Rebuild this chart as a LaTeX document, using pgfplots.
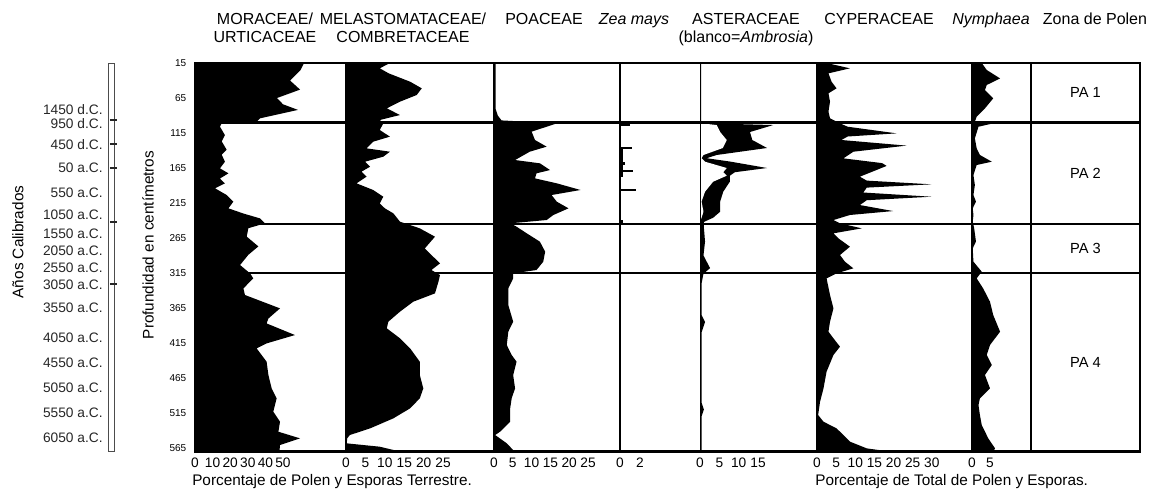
\documentclass[border=0pt]{standalone}
\usepackage{pgfplots}
\pgfplotsset{compat=1.18}
\usepackage{fontspec}
\setmainfont{Liberation Sans}
\begin{document}
\begin{tikzpicture}
\pgfplotsset{
  panel/.style={
    scale only axis, height=291.4pt, ymin=15, ymax=570, y dir=reverse, xmin=0,
    anchor=north west, axis on top,
    ytick=\empty, major tick length=0pt,
    axis line style={line width=0.9pt},
    /pgf/number format/assume math mode=true,
    tick label style={font=\fontsize{10.3}{12}\selectfont},
    xticklabel style={yshift=-1pt},
    extra y ticks={100,245,315},
    extra y tick labels={,,},
    extra y tick style={grid=major, major grid style={line width=1.7pt, black}},
  },
  fillb/.style={fill=black, draw=none},
}
\path[use as bounding box] (0,0) rectangle (865.5pt,-372pt);

% Age column
\begin{axis}[scale only axis, width=4.5pt, height=291.4pt, at={(81pt,-47.25pt)}, anchor=north west,
  ymin=15, ymax=570, y dir=reverse, xmin=0, xmax=1, xtick=\empty, major tick length=0pt,
  ytick={82,102,132,165,200.7,232,259,283.6,307.9,332,365,408,443.6,479.3,515,550.7},
  yticklabels={1450 d.C.,950 d.C.,450 d.C.,50 a.C.,550 a.C.,1050 a.C.,1550 a.C.,2050 a.C.,2550 a.C.,3050 a.C.,3550 a.C.,4050 a.C.,4550 a.C.,5050 a.C.,5550 a.C.,6050 a.C.},
  yticklabel style={font=\fontsize{10.3}{12}\selectfont, xshift=-0.5pt, text=black!85},
  axis line style={line width=0.6pt, black!70}, clip=false]
\draw[line width=0.9pt, black!85] (axis cs:0.3,96.4) -- (axis cs:1.5,96.4);
\draw[line width=0.9pt, black!85] (axis cs:0.3,130.7) -- (axis cs:1.5,130.7);
\draw[line width=0.9pt, black!85] (axis cs:0.3,165) -- (axis cs:1.5,165);
\draw[line width=0.9pt, black!85] (axis cs:0.3,242) -- (axis cs:1.5,242);
\draw[line width=0.9pt, black!85] (axis cs:0.3,330.7) -- (axis cs:1.5,330.7);
\end{axis}

% 1 Moraceae/Urticaceae
\begin{axis}[panel, width=113.25pt, at={(146.25pt,-47.25pt)}, xmax=85.8, xtick={0,10,20,30,40,50},
  ytick={15,65,...,565}, yticklabel style={font=\fontsize{7.5}{9}\selectfont, xshift=-3pt}]
\addplot[fillb] coordinates {(0,15) (62,15) (60,25) (54,40) (59.7,53) (46.6,65) (50,74) (58.5,82) (37,94) (35,99)
 (15.2,101) (14.2,106) (17,118) (15.2,127) (18,139) (15.2,146) (17,156) (14.2,165.5) (19,172.6) (14.2,180) (17,187)
 (11.4,194) (18,203.6) (21.8,213) (19,222.6) (27.5,230) (37,237) (39.8,244) (30.3,251) (29.4,263) (36,277) (30.3,289)
 (25.6,303.6) (31.3,315.5) (33.1,322.6) (27.5,337) (28.4,346.4) (48.3,365.5) (41.7,380) (40.7,387) (56.8,403.6)
 (40.7,415.5) (35,422.6) (40.7,441.7) (41.7,460.7) (43.6,480) (46.4,494) (44.5,513) (48.3,527.4) (47.4,541.7)
 (59.7,551.2) (48.3,560.7) (48,570) (0,570)};
\end{axis}

% 2 Melastomataceae/Combretaceae
\begin{axis}[panel, width=111pt, at={(259.5pt,-47.25pt)}, xmax=38.1, xtick={0,5,...,25}]
\addplot[fillb] coordinates {(0,15) (11.3,15) (8.7,22.6) (11,29.8) (16.5,41.7) (19.5,51.2) (18.2,60.7) (13.9,70.2)
 (10.5,79.8) (13.9,89.3) (8.7,96.4) (9.6,101.2) (8.7,110.7) (11.3,120.2) (7,127.4) (5.3,136.9) (11.3,141.7) (9.6,148.8)
 (4.9,156) (6.2,163.1) (4,170.2) (5.3,177.4) (2.7,186.9) (7,196.4) (9.6,206) (8.7,215.5) (10,222.6) (12.2,229.8)
 (13.9,241.7) (19,251.2) (22.9,263.1) (20.3,279.8) (22,289.3) (24.2,301.2) (22,310.7) (24.2,317.9) (23.8,327.4)
 (22.9,344.1) (17.3,356) (13.9,370.2) (10.9,384.5) (10.5,394) (13.9,408.3) (16.5,422.6) (19,441.7) (19,460.7)
 (19.9,479.8) (19,494) (16.5,508.3) (12.2,522.6) (6.2,536.9) (1,546.4) (0.3,551.2) (0.2,558.3) (8.7,563.1)
 (13.9,570) (0,570)};
\end{axis}

% 3 Poaceae
\begin{axis}[panel, width=94.5pt, at={(370.5pt,-47.25pt)}, xmax=33.5, xtick={0,5,...,25}]
\addplot[fillb] coordinates {(0,15) (0.4,15) (0.4,80) (1,90) (2,97) (16.7,101.2) (10,113.1) (10.9,125) (14,134.5)
 (9.5,141.7) (5.6,153.6) (12.2,158.3) (14.9,167.9) (11.3,172.6) (10.9,179.8) (16.7,186.9) (23,196.4) (15.3,203.6)
 (16.7,213.1) (19.8,222.6) (15.8,232.1) (14,239.3) (4.3,244) (6,248.8) (8.7,258.3) (12.2,270.2) (13.6,284.5)
 (13.1,298.8) (11.3,310.7) (5.1,315.5) (5.1,322.6) (3.8,337) (3.8,360.7) (5.1,384.5) (3.8,398.8) (3.4,417.9)
 (4.7,432.1) (6,441.7) (5.1,460.7) (5.6,479.8) (4.7,494) (4.3,508.3) (4.3,527.4) (1.6,541.7) (0.3,546.4)
 (3.4,558.3) (5.1,567.9) (2,570) (0,570)};
\end{axis}

% 4 Zea mays
\begin{axis}[panel, width=60pt, at={(465pt,-47.25pt)}, xmax=8, xtick={0,2}, axis line style={line width=0.5pt}]
\addplot[xcomb, line width=2.2pt, black] coordinates {(1.0,103.6) (1.2,136.4) (0.5,157.9) (1.3,169.3) (1.6,196.4) (0.3,242)};
\addplot[line width=1.2pt, black] coordinates {(0.2,135) (0.2,178)};
\end{axis}

% 5 Asteraceae
\begin{axis}[panel, width=87.75pt, at={(525pt,-47.25pt)}, xmax=30.2, xtick={0,5,10,15}, axis line style={line width=0.5pt}]
\addplot[fillb] coordinates {(0,15) (0.3,15) (0.3,100) (1,101) (18.9,103.6) (12.9,113.6) (13.5,125) (17.3,136.4)
 (4.3,146.4) (1.7,151) (8,156) (17.3,165) (9,171) (7.7,176) (7.7,184.5) (6,198.8) (5.2,213) (5.2,227.4) (3.4,236)
 (1,242) (1,250) (1.3,270) (0.9,290) (2.6,308) (0.9,316) (0.4,330) (0.4,375) (1.3,385) (0.4,400) (0.4,500)
 (1,510) (0.4,520) (0.4,570) (0,570)};
\addplot[fill=white, draw=none] coordinates {(0,100) (0,101) (4.3,103.6) (5.2,113.6) (6.9,125) (5.9,136.4)
 (0.9,146.4) (0.4,151) (1.3,156) (6.9,165) (6,171) (6.9,176) (3.4,184.5) (1.3,198.8) (0.4,213) (0.9,227.4)
 (0.4,236) (0,242)};
\end{axis}

% 6 Cyperaceae
\begin{axis}[panel, width=116.25pt, at={(612.75pt,-47.25pt)}, xmax=40.5, xtick={0,5,...,30}]
\addplot[fillb] coordinates {(0,15) (2.5,15) (8.6,22.6) (3,29.8) (3.8,41.7) (5.1,51.2) (3,58.3) (3.4,70.2) (3,84.5)
 (3.4,94) (6,101.2) (8,106) (20.8,115.5) (8,120) (6.4,125) (23.4,133) (9.5,141.7) (6.9,151.2) (17,158) (18.2,162)
 (11.2,177.4) (13,183) (29.9,188.3) (13,193) (12.1,200) (29.9,206) (13,211) (11.2,217.9) (19.9,226.5) (8.6,232.1)
 (4.3,239.3) (6,244) (11.7,251.2) (4.3,258.3) (5.6,265.5) (8.6,277.4) (6,289.3) (7.3,298.8) (9.5,308.3)
 (5.1,315.5) (2.5,322.6) (3.4,346.4) (4.3,365.5) (3.4,384.5) (3,398.8) (4.3,408.3) (6,420.2) (4.3,432.1)
 (2.5,455.9) (1.7,479.8) (0.8,498.8) (0.3,517.9) (1.7,527.4) (5.1,536.9) (6.9,546.4) (8.6,555.9) (13,565.5)
 (19,570) (0,570)};
\end{axis}

% 7 Nymphaea
\begin{axis}[panel, width=44.25pt, at={(729pt,-47.25pt)}, xmax=16.4, xtick={0,5}]
\addplot[fillb] coordinates {(0,15) (2.7,15) (4.1,25) (7.8,37) (4.1,46.4) (3.6,53.6) (5.9,65.5) (3.6,79.8) (1.3,91.7)
 (0.8,98.8) (5.9,101.2) (1.8,106) (0.8,122.6) (1.3,136.9) (2.2,146.4) (5.5,156) (1.3,160.7) (0.4,175) (0.8,189.3)
 (0.4,203.6) (1.1,213) (0.2,222.6) (0.4,232) (0.2,241.7) (0.6,251) (1.1,270) (0.2,279.8) (0.4,298.8) (2.7,313)
 (1.3,322.6) (3.1,337) (5,356) (5.9,375) (7.8,398.8) (5,417.9) (4.1,432) (5.5,446.4) (3.6,460.7) (5,479.8)
 (2.2,494) (1.8,503.6) (2.2,517.9) (2.7,532) (4.5,551) (6.4,565.5) (5.9,570) (0,570)};
\end{axis}

% 8 Zona de Polen
\begin{axis}[panel, width=81.75pt, at={(773.25pt,-47.25pt)}, xmax=1, xtick=\empty, axis line style={line width=0.5pt}]
\node[font=\fontsize{11}{13}\selectfont] at (axis cs:0.5,57.5) {PA 1};
\node[font=\fontsize{11}{13}\selectfont] at (axis cs:0.5,172.5) {PA 2};
\node[font=\fontsize{11}{13}\selectfont] at (axis cs:0.5,280) {PA 3};
\node[font=\fontsize{11}{13}\selectfont] at (axis cs:0.5,442.5) {PA 4};
\end{axis}

% outer frame
\draw[line width=1.7pt] (146.25pt,-47.25pt) rectangle (855pt,-338.65pt);

% headers
\begin{scope}[every node/.style={font=\fontsize{12}{14}\selectfont, inner sep=0pt, anchor=base}]
\node at (198.75pt,-18.75pt) {MORACEAE/};
\node at (198.75pt,-32pt) {URTICACEAE};
\node at (302.25pt,-18.75pt) {MELASTOMATACEAE/};
\node at (302.25pt,-32pt) {COMBRETACEAE};
\node at (408pt,-18.75pt) {POACEAE};
\node at (475.5pt,-18.75pt) {\itshape Zea mays};
\node at (559.5pt,-18.75pt) {ASTERACEAE};
\node at (559.5pt,-32pt) {(blanco=\textit{Ambrosia})};
\node at (659.25pt,-18.75pt) {CYPERACEAE};
\node at (743.25pt,-18.75pt) {\itshape Nymphaea};
\node at (821.25pt,-18.75pt) {Zona de Polen};
\end{scope}
\begin{scope}[every node/.style={font=\fontsize{11.5}{14}\selectfont, inner sep=0pt}]
\node[anchor=west] at (144pt,-361.5pt) {Porcentaje de Polen y Esporas Terrestre.};
\node[anchor=west] at (611.25pt,-361.5pt) {Porcentaje de Total de Polen y Esporas.};
\node[rotate=90] at (111pt,-183.75pt) {Profundidad en centímetros};
\node[rotate=90] at (13.5pt,-181.5pt) {Años Calibrados};
\end{scope}
\end{tikzpicture}
\end{document}
